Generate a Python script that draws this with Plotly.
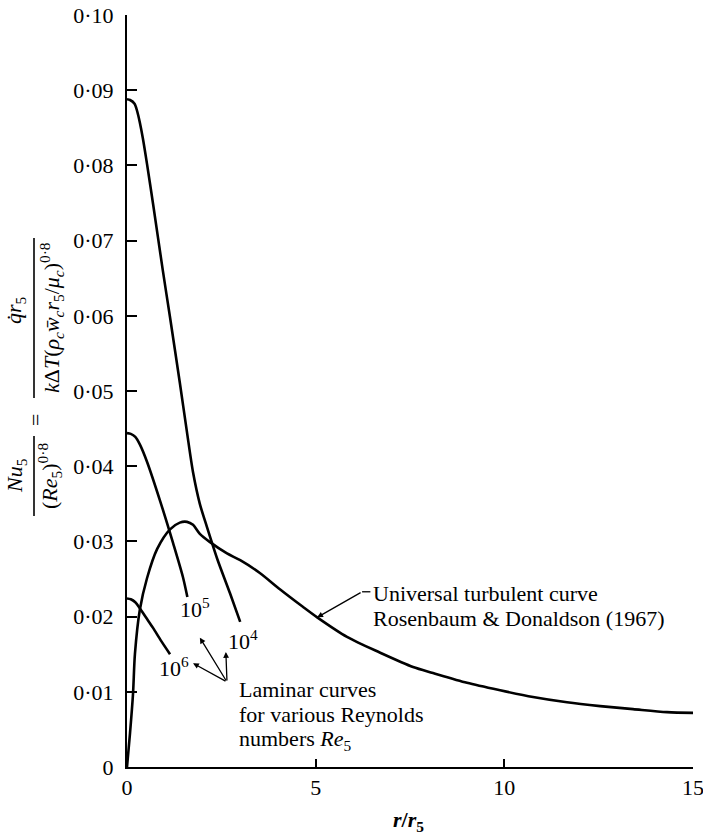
import plotly.graph_objects as go

# Laminar stagnation-point curves for three jet Reynolds numbers
lam_1e4_r = [0.0, 0.08, 0.20, 0.27, 0.34, 0.42, 0.53, 0.69, 0.95, 1.14, 1.40, 1.59, 1.75, 1.93, 2.12, 2.39, 2.73, 3.00]
lam_1e4_nu = [0.0888, 0.0887, 0.0882, 0.0872, 0.0857, 0.0836, 0.0802, 0.0749, 0.0660, 0.0598, 0.0511, 0.0445, 0.0392, 0.0350, 0.0319, 0.0277, 0.0231, 0.0193]

lam_1e5_r = [0.0, 0.10, 0.22, 0.34, 0.53, 0.87, 1.22, 1.48, 1.60]
lam_1e5_nu = [0.0444, 0.0443, 0.0439, 0.0429, 0.0406, 0.0355, 0.0298, 0.0253, 0.0226]

lam_1e6_r = [0.0, 0.10, 0.22, 0.34, 0.50, 0.69, 0.90, 1.14]
lam_1e6_nu = [0.0224, 0.0223, 0.0219, 0.0211, 0.0199, 0.0185, 0.0168, 0.0150]

# Universal turbulent curve (Rosenbaum & Donaldson 1967)
turb_r = [0.0, 0.08, 0.16, 0.21, 0.34, 0.53, 0.80, 1.14, 1.40, 1.59, 1.75, 1.93, 2.20, 2.65,
          3.00, 3.52, 4.06, 4.66, 5.04, 5.83, 6.71, 7.58, 8.11, 9.01, 9.89, 10.76,
          11.66, 12.54, 13.41, 14.31, 15.0]
turb_nu = [0.0, 0.0045, 0.0098, 0.0150, 0.0209, 0.0251, 0.0290, 0.0316, 0.0325, 0.0326, 0.0322,
           0.0310, 0.0299, 0.0284, 0.0275, 0.0258, 0.0236, 0.0213, 0.0199, 0.0173, 0.0152,
           0.0133, 0.0125, 0.0112, 0.0102, 0.0093, 0.0086, 0.0081, 0.0077, 0.0073, 0.0072]

y_tick_vals = [0.0, 0.01, 0.02, 0.03, 0.04, 0.05, 0.06, 0.07, 0.08, 0.09, 0.10]
y_tick_text = ["0", "0·01", "0·02", "0·03", "0·04", "0·05", "0·06", "0·07", "0·08", "0·09", "0·10"]
x_tick_vals = [0, 5, 10, 15]
x_tick_text = ["0", "5", "10", "15"]

re_labels = ["10<sup>4</sup>", "10<sup>5</sup>", "10<sup>6</sup>"]
re_label_pos = [(3.07, 0.0169), (1.80, 0.0212), (1.24, 0.0133)]

laminar_note = ["Laminar curves", "for various Reynolds", "numbers <i>Re</i><sub>5</sub>"]
turb_note = ["Universal turbulent curve", "Rosenbaum &amp; Donaldson (1967)"]

FONT = "Liberation Serif, Times New Roman, serif"
FS = 22
W, H = 703, 836
ML, MR, MT, MB = 127, 10, 15, 69
PW, PH = W - ML - MR, H - MT - MB


def px_x(px):
    return (px - ML) / PW


def px_y(py):
    return (H - MB - py) / PH


fig = go.Figure()
line = dict(color="black", width=2.6, shape="spline", smoothing=0.8)
for r, nu in [(lam_1e4_r, lam_1e4_nu), (lam_1e5_r, lam_1e5_nu),
              (lam_1e6_r, lam_1e6_nu), (turb_r, turb_nu)]:
    fig.add_trace(go.Scatter(x=r, y=nu, mode="lines", line=line,
                             hoverinfo="skip", showlegend=False))

ann = []
for txt, (xx, yy) in zip(re_labels, re_label_pos):
    ann.append(dict(x=xx, y=yy, xref="x", yref="y", text=txt, showarrow=False,
                    font=dict(size=FS), xanchor="center", yanchor="middle"))

# arrows from the laminar note to the three Reynolds-number labels
origin = (2.65, 0.0113)
for hx, hy in [(1.93, 0.0172), (2.62, 0.0153), (1.75, 0.0138)]:
    ann.append(dict(x=hx, y=hy, xref="x", yref="y", ax=origin[0], ay=origin[1],
                    axref="x", ayref="y", text="", showarrow=True, arrowhead=2,
                    arrowsize=0.9, arrowwidth=1.3, arrowcolor="black"))

# multi-line notes, one annotation per line for tight leading
for i, txt in enumerate(laminar_note):
    ann.append(dict(x=px_x(237), y=px_y(689 + 25.5 * i), xref="paper", yref="paper",
                    text=txt, showarrow=False, xanchor="left", yanchor="middle",
                    font=dict(size=FS)))
for i, txt in enumerate(turb_note):
    ann.append(dict(x=px_x(371), y=px_y(593 + 25.5 * i), xref="paper", yref="paper",
                    text=txt, showarrow=False, xanchor="left", yanchor="middle",
                    font=dict(size=FS)))
ann.append(dict(x=turb_r[18], y=turb_nu[18], xref="x", yref="y", ax=6.23, ay=0.0233,
                axref="x", ayref="y", text="", showarrow=True, arrowhead=2,
                arrowsize=0.9, arrowwidth=1.3, arrowcolor="black"))

# x-axis title
ann.append(dict(x=px_x(408), y=px_y(821), xref="paper", yref="paper",
                text="<b><i>r</i>/<i>r</i><sub>5</sub></b>", showarrow=False,
                xanchor="center", yanchor="middle", font=dict(size=FS)))

# y-axis title: two stacked fractions, rotated
ytitle_parts = [
    ("<i>Nu</i><sub>5</sub>", 16, 476),
    ("(<i>Re</i><sub>5</sub>)<sup>0·8</sup>", 50, 476),
    ("=", 35, 420),
    ("<i>q\u0307r</i><sub>5</sub>", 15, 310),
    ("<i>k</i>Δ<i>T</i>(<i>ρ</i><sub><i>c</i></sub><i>w\u0304</i><sub><i>c</i></sub>"
     "<i>r</i><sub>5</sub>/<i>μ</i><sub><i>c</i></sub>)<sup>0·8</sup>", 51, 318),
]
for txt, px, py in ytitle_parts:
    ann.append(dict(x=px_x(px), y=px_y(py), xref="paper", yref="paper", text=txt,
                    showarrow=False, textangle=-90, xanchor="center", yanchor="middle",
                    font=dict(size=FS)))

shapes = [
    dict(type="line", xref="paper", yref="paper", x0=px_x(34), x1=px_x(34),
         y0=px_y(436), y1=px_y(516), line=dict(color="black", width=1.6)),
    dict(type="line", xref="paper", yref="paper", x0=px_x(34), x1=px_x(34),
         y0=px_y(238), y1=px_y(398), line=dict(color="black", width=1.6)),
    dict(type="line", xref="x", yref="y", x0=6.23, x1=6.45, y0=0.0233, y1=0.0233,
         line=dict(color="black", width=1.3)),
]

fig.update_layout(
    width=W, height=H,
    margin=dict(l=ML, r=MR, t=MT, b=MB, pad=0, autoexpand=False),
    paper_bgcolor="white", plot_bgcolor="white",
    font=dict(family=FONT, size=FS, color="black"),
    annotations=ann, shapes=shapes,
    xaxis=dict(range=[0, 15], tickvals=x_tick_vals, ticktext=x_tick_text,
               showgrid=False, zeroline=False, showline=True, linecolor="black",
               linewidth=2, ticks="inside", ticklen=8, tickwidth=1.5, automargin=False,
               tickcolor="black", tickfont=dict(size=FS), ticklabeloverflow="allow"),
    yaxis=dict(range=[0, 0.10], tickvals=y_tick_vals, ticktext=y_tick_text,
               showgrid=False, zeroline=False, showline=True, linecolor="black",
               linewidth=2, ticks="inside", ticklen=10, tickwidth=2, automargin=False,
               tickcolor="black", tickfont=dict(size=FS), ticklabelstandoff=7,
               ticklabeloverflow="allow"),
)

fig.write_html("out.html")
